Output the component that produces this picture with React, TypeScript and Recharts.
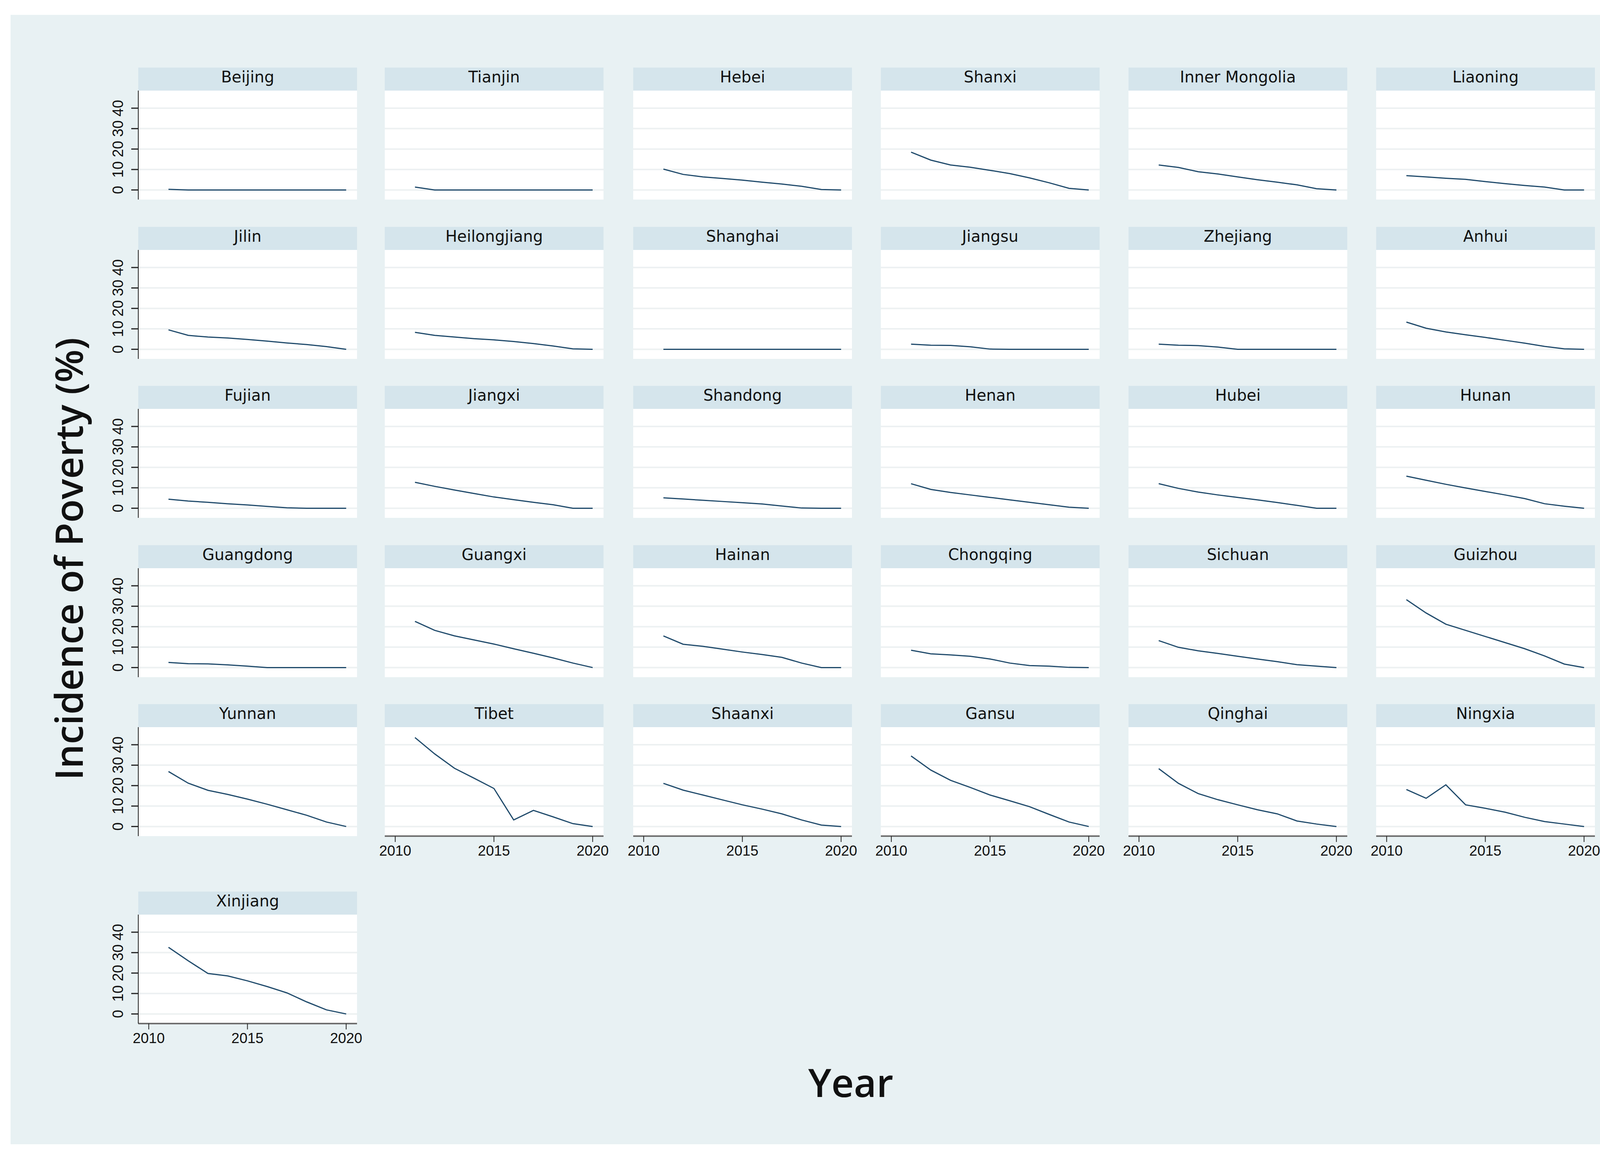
import { LineChart, Line, XAxis, YAxis, CartesianGrid } from 'recharts';

// years and provinces (%)
const YEARS = [2011, 2012, 2013, 2014, 2015, 2016, 2017, 2018, 2019, 2020];
const Y_TICKS = [0, 10, 20, 30, 40];
const X_TICKS = [2010, 2015, 2020];

const beijing = [0.3, 0, 0, 0, 0, 0, 0, 0, 0, 0];
const tianjin = [1.4, 0, 0, 0, 0, 0, 0, 0, 0, 0];
const hebei = [10.2, 7.6, 6.4, 5.6, 4.8, 3.8, 2.9, 1.8, 0.2, 0];
const shanxi = [18.5, 14.6, 12.2, 11.1, 9.6, 8.0, 5.9, 3.5, 0.8, 0];
const innerMongolia = [12.2, 11.0, 8.9, 7.8, 6.4, 5.0, 3.8, 2.5, 0.6, 0];
const liaoning = [7.0, 6.4, 5.7, 5.2, 4.1, 3.1, 2.2, 1.4, 0, 0];
const jilin = [9.5, 6.8, 6.0, 5.5, 4.8, 4.0, 3.1, 2.3, 1.3, 0];
const heilongjiang = [8.3, 6.8, 6.0, 5.2, 4.6, 3.8, 2.8, 1.6, 0.2, 0];
const shanghai = [0, 0, 0, 0, 0, 0, 0, 0, 0, 0];
const jiangsu = [2.5, 2.0, 1.9, 1.2, 0.1, 0, 0, 0, 0, 0];
const zhejiang = [2.5, 2.0, 1.8, 1.1, 0, 0, 0, 0, 0, 0];
const anhui = [13.3, 10.3, 8.5, 7.1, 5.8, 4.4, 3.0, 1.4, 0.2, 0];
const fujian = [4.4, 3.5, 2.9, 2.2, 1.6, 0.9, 0.2, 0, 0, 0];
const jiangxi = [12.7, 10.7, 8.9, 7.2, 5.5, 4.2, 2.9, 1.7, 0, 0];
const shandong = [5.1, 4.5, 3.9, 3.3, 2.7, 2.1, 1.1, 0.1, 0, 0];
const henan = [12.0, 9.2, 7.7, 6.5, 5.3, 4.1, 2.9, 1.7, 0.5, 0];
const hubei = [12.0, 9.7, 7.9, 6.5, 5.3, 4.1, 2.8, 1.4, 0, 0];
const hunan = [15.7, 13.7, 11.7, 9.9, 8.2, 6.5, 4.7, 2.2, 1.0, 0];
const guangdong = [2.5, 1.9, 1.8, 1.3, 0.7, 0, 0, 0, 0, 0];
const guangxi = [22.6, 18.2, 15.5, 13.5, 11.5, 9.2, 7.0, 4.7, 2.2, 0];
const hainan = [15.5, 11.4, 10.4, 9.0, 7.6, 6.4, 5.0, 2.2, 0, 0];
const chongqing = [8.5, 6.7, 6.2, 5.5, 4.2, 2.2, 1.0, 0.7, 0.1, 0];
const sichuan = [13.2, 9.9, 8.2, 6.9, 5.5, 4.2, 2.9, 1.4, 0.7, 0];
const guizhou = [33.2, 26.7, 21.2, 18.2, 15.2, 12.2, 9.2, 5.7, 1.7, 0];
const yunnan = [26.9, 21.2, 17.7, 15.7, 13.4, 10.9, 8.2, 5.5, 2.2, 0];
const tibet = [43.5, 35.5, 28.5, 23.6, 18.6, 3.2, 7.9, 4.7, 1.4, 0];
const shaanxi = [21.1, 17.8, 15.4, 13.0, 10.6, 8.5, 6.2, 3.2, 0.7, 0];
const gansu = [34.5, 27.6, 22.6, 19.1, 15.4, 12.6, 9.7, 5.9, 2.2, 0];
const qinghai = [28.3, 21.1, 16.1, 13.1, 10.6, 8.2, 6.2, 2.7, 1.2, 0];
const ningxia = [18.1, 13.8, 20.4, 10.6, 8.9, 7.0, 4.5, 2.4, 1.2, 0];
const xinjiang = [32.6, 26.0, 19.8, 18.6, 16.2, 13.4, 10.3, 5.9, 2.0, 0];

const PANELS: [string, number[]][] = [
  ['Beijing', beijing], ['Tianjin', tianjin], ['Hebei', hebei], ['Shanxi', shanxi],
  ['Inner Mongolia', innerMongolia], ['Liaoning', liaoning],
  ['Jilin', jilin], ['Heilongjiang', heilongjiang], ['Shanghai', shanghai],
  ['Jiangsu', jiangsu], ['Zhejiang', zhejiang], ['Anhui', anhui],
  ['Fujian', fujian], ['Jiangxi', jiangxi], ['Shandong', shandong],
  ['Henan', henan], ['Hubei', hubei], ['Hunan', hunan],
  ['Guangdong', guangdong], ['Guangxi', guangxi], ['Hainan', hainan],
  ['Chongqing', chongqing], ['Sichuan', sichuan], ['Guizhou', guizhou],
  ['Yunnan', yunnan], ['Tibet', tibet], ['Shaanxi', shaanxi],
  ['Gansu', gansu], ['Qinghai', qinghai], ['Ningxia', ningxia],
  ['Xinjiang', xinjiang],
];

// layout
const COL_X = [354, 985, 1621, 2255, 2889, 3523];
const PANEL_W = 560;
const HEADER_H = 59;
const PLOT_H = 279;
const YAXIS_W = 120;
const XAXIS_H = 70;
const PAD = 50; // room for the outer year labels
const LINE = '#1f4a6b';

function headerTop(i: number) {
  if (i === 30) return 2283;
  return 173 + Math.floor(i / 6) * 407.5;
}

function YTick(props: any) {
  const { x, y, payload } = props;
  return (
    <text x={x} y={y} transform={`rotate(-90 ${x} ${y})`} textAnchor="middle"
      fontSize={38} fontFamily="Liberation Sans, Arial, sans-serif" fill="#111">
      {payload.value}
    </text>
  );
}

function Panel({ index }: { index: number }) {
  const [name, values] = PANELS[index];
  const col = index % 6;
  const showY = col === 0;
  const showX = index >= 25;
  const data = YEARS.map((year, k) => ({ year, v: values[k] }));
  const left = COL_X[col];
  const top = headerTop(index);
  const padL = showY ? YAXIS_W : showX ? PAD : 0;
  const padR = showX ? PAD : 0;
  return (
    <>
      <div style={{
        position: 'absolute', left, top, width: PANEL_W, height: HEADER_H,
        background: '#d5e5ec', textAlign: 'center', fontFamily: 'DejaVu Sans, sans-serif',
        fontSize: 40, lineHeight: '48px', color: '#111',
      }}>{name}</div>
      <div style={{ position: 'absolute', left: left - padL, top: top + HEADER_H }}>
        <LineChart
          width={PANEL_W + padL + padR}
          height={PLOT_H + (showX ? XAXIS_H : 0)}
          data={data}
          margin={{ top: 0, right: padR, bottom: 0, left: showY ? 0 : padL }}
        >
          <CartesianGrid vertical={false} horizontalValues={Y_TICKS} stroke="#edf1f2"
            strokeWidth={4} fill="#ffffff" fillOpacity={1} />
          <XAxis dataKey="year" type="number" domain={[2009.47, 2020.55]} ticks={X_TICKS}
            allowDataOverflow hide={!showX} height={XAXIS_H} interval={0}
            axisLine={{ stroke: '#6f6f6f', strokeWidth: 4 }}
            tickLine={{ stroke: '#222', strokeWidth: 2 }} tickSize={15} tickMargin={9}
            tick={{ fontSize: 37, fontFamily: 'Liberation Sans, Arial, sans-serif', fill: '#111' }} />
          <YAxis type="number" domain={[-4.7, 48.6]} ticks={Y_TICKS} allowDataOverflow
            hide={!showY} width={YAXIS_W} interval={0}
            axisLine={{ stroke: '#222', strokeWidth: 2 }}
            tickLine={{ stroke: '#222', strokeWidth: 3 }} tickSize={18} tickMargin={21}
            tick={<YTick />} />
          <Line type="linear" dataKey="v" stroke={LINE} strokeWidth={3} dot={false}
            isAnimationActive={false} />
        </LineChart>
      </div>
    </>
  );
}

export default function App() {
  return (
    <div style={{ position: 'absolute', left: 0, top: 0, width: 4255, height: 2955, background: '#ffffff', overflow: 'hidden' }}>
      <div style={{ position: 'absolute', left: 27, top: 38, width: 4201, height: 2892, background: '#e8f1f3' }} />
      {PANELS.map((_, i) => <Panel key={i} index={i} />)}
      <svg style={{ position: 'absolute', left: 0, top: 0 }} width={4255} height={2955}>
        <text x={212} y={1431} transform="rotate(-90 212 1431)" textAnchor="middle"
          fontFamily="Open Sans, sans-serif" fontWeight={600} fontSize={98} fill="#111">
          Incidence of Poverty (%)
        </text>
        <text x={2178} y={2809} textAnchor="middle"
          fontFamily="Open Sans, sans-serif" fontWeight={600} fontSize={100} fill="#111">
          Year
        </text>
      </svg>
    </div>
  );
}
